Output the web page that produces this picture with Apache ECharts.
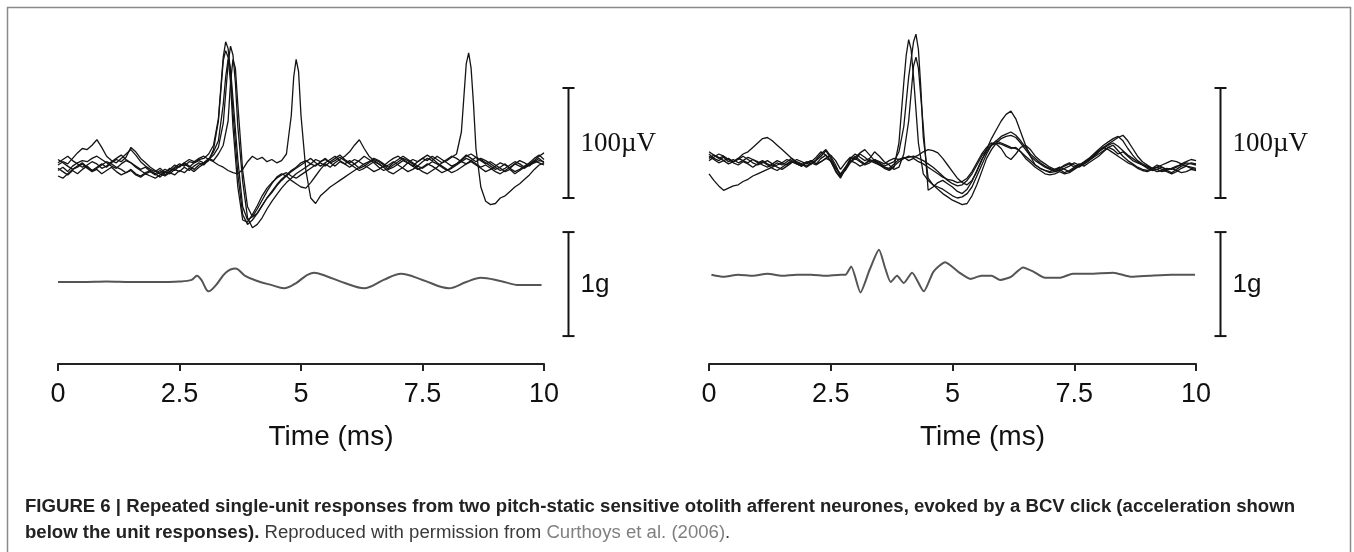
<!DOCTYPE html>
<html>
<head>
<meta charset="utf-8">
<title>Figure 6</title>
<script src="https://cdn.jsdelivr.net/npm/echarts@6/dist/echarts.min.js"></script>
<style>
  html, body { margin: 0; padding: 0; background: #fff; }
  #chart { width: 1354px; height: 552px; }
</style>
</head>
<body>
<div id="chart"></div>
<script>
  // tick labels of the time axis (ms)
  var timeTicks = ['0', '2.5', '5', '7.5', '10'];
  var sampleStep = 0.1; // ms between samples of the unit traces

  // left neurone, unit responses (uV), one value every 0.1 ms
  var leftUnit1 = [-5, -2, -6, -1, 2, 4, 3, 6, 8, 5,
    2, -1, -3, 1, 4, 2, -2, -5, -8, -6,
    -9, -7, -4, -6, -2, 1, -1, 3, 2, 5,
    6, 10, 18, 42, 98, 106, 48, -8, -45, -54,
    -50, -44, -37, -30, -24, -18, -13, -9, -5, -2,
    2, 4, 1, 5, 3, 6, 2, -1, 3, 1,
    -2, 1, 4, 8, 5, 2, -2, -5, -3, 0,
    3, 6, 4, 1, -3, -6, -8, -5, -2, 2,
    5, 8, 6, 3, 1, 4, 7, 5, 2, -1,
    -4, -2, 1, -3, -6, -4, -1, 2, 6, 9,
    5];
  var leftUnit2 = [-10, -12, -8, -4, -1, 2, -2, -5, -3, 0,
    3, 1, -2, -4, -7, -5, -9, -11, -8, -10,
    -12, -9, -6, -8, -4, -6, -2, -5, -1, 2,
    0, 5, 9, 16, 38, 92, 100, 35, -15, -48,
    -57, -54, -48, -40, -33, -27, -21, -16, -12, -8,
    -5, -2, 1, -1, 3, 5, 2, 4, 7, 4,
    1, -2, -5, -3, 0, 3, 1, -2, -6, -8,
    -5, -2, 2, 5, 3, 6, 9, 6, 2, -1,
    -4, -7, -5, -2, 1, 3, 0, -3, -6, -4,
    -1, 2, 0, -3, 1, 4, 2, -1, 3, 6,
    2];
  var leftUnit3 = [0, 3, 1, 6, 11, 15, 14, 18, 23, 16,
    8, 4, 2, 6, 10, 14, 9, 3, -1, -4,
    -6, -3, -7, -4, 0, -2, 2, 5, 3, 6,
    8, 5, 12, 22, 55, 96, 60, 5, -38, -50,
    -47, -40, -32, -24, -17, -11, -8, -10, -14, -17,
    -20, -21, -16, -10, -4, 1, -2, 2, 5, 8,
    12, 18, 23, 15, 8, 4, 1, -2, 0, 3,
    0, -3, -6, -4, -1, 3, 6, 4, 8, 5,
    2, -1, 1, 4, 8, 10, 7, 4, 1, 3,
    0, -3, -6, -4, -8, -5, -2, 1, 4, 2,
    0];
  var leftUnit4 = [5, 2, -1, -4, -2, 1, -3, -6, -4, -8,
    -5, -2, -6, -9, -7, -4, -8, -10, -7, -5,
    -8, -11, -7, -3, -5, -1, 2, -1, -4, 0,
    2, 6, 4, 10, 18, 40, 96, 55, -5, -38,
    -47, -44, -37, -30, -25, -19, -14, -10, -6, -3,
    0, 3, 6, 2, -1, 2, 5, 8, 4, 1,
    4, 1, -3, -1, 2, 5, 3, 0, -4, -2,
    1, 4, 2, -1, 3, 6, 4, 8, 5, 2,
    4, 7, 10, 30, 92, 88, 15, -20, -33, -36,
    -35, -30, -28, -24, -20, -17, -13, -9, -4, 0,
    2];
  var leftUnit5 = [-3, -6, -9, -5, -8, -4, -1, -5, -2, 1,
    -2, 2, 5, 3, 7, 16, 12, 6, 2, -2,
    -5, -8, -10, -7, -9, -5, -7, -3, -6, -2,
    1, 4, 14, 40, 95, 98, 35, -20, -50, -52,
    -45, -37, -28, -21, -16, -12, -9, -7, -10, -12,
    -9, -6, -3, 0, 2, -1, 3, 6, 9, 5,
    2, 5, 3, 0, -3, -6, -4, -1, 3, 6,
    8, 5, 2, -1, -4, -2, 1, -1, -4, -7,
    -5, -2, 1, 5, 9, 6, 3, 6, 4, 1,
    -2, -5, -3, 0, 3, 1, -2, 0, 4, 8,
    11];
  var leftUnit6 = [2, 5, 8, 4, 1, -2, 0, 3, 1, -3,
    -1, 3, 6, 9, 5, 2, -1, -4, -2, -6,
    -8, -5, -9, -6, -3, -1, 1, -2, 2, 4,
    2, 5, 3, 0, -2, -5, -7, -8, -4, 3,
    8, 5, 7, 3, 5, 2, 4, 10, 45, 96,
    45, -5, -30, -35, -28, -24, -20, -17, -14, -11,
    -8, -5, -2, 1, 3, 6, 4, 1, -2, 2,
    5, 8, 5, 2, -1, -3, 0, 3, 1, -2,
    -5, -3, 0, 3, 6, 4, 1, -2, 0, -3,
    -6, -8, -5, -2, 1, -1, -3, 0, 2, 4,
    3];
  // extra points read at the spike tips, [time ms, uV]
  var leftTips1 = [[3.45, 112], [3.55, 85]];
  var leftTips2 = [[3.55, 108], [3.65, 75]];
  var leftTips3 = [[3.45, 80], [3.55, 88]];
  var leftTips4 = [[3.55, 75], [3.65, 88], [8.45, 102], [8.55, 55]];
  var leftTips5 = [[3.45, 104], [3.55, 75]];
  var leftTips6 = [[4.85, 80], [4.95, 85]];

  // right neurone, unit responses (uV)
  var rightUnit1 = [8, 5, 2, 4, 1, 3, 6, 4, 2, 5,
    3, 0, -2, 1, 4, 2, 5, 3, 1, -1,
    2, 4, 1, 3, 6, 9, 4, -4, 2, 7,
    5, 10, 7, 3, 5, 2, -1, 1, 3, 12,
    35, 80, 112, 105, 25, -12, -18, -22, -26, -29,
    -32, -34, -36, -35, -28, -18, -6, 6, 14, 20,
    24, 26, 27, 25, 20, 14, 8, 4, 1, -2,
    -4, -6, -5, -3, -1, 2, 0, 3, 6, 10,
    14, 18, 21, 24, 26, 22, 15, 9, 4, 1,
    -1, -3, -2, 0, 2, 4, 3, 1, 3, 5,
    4];
  var rightUnit2 = [10, 6, 4, 7, 3, 5, 2, 4, 7, 5,
    2, 4, 1, -1, 2, 0, 3, 6, 2, 1,
    -2, 1, 5, 10, 14, 8, 0, -10, -4, 5,
    8, 4, 1, 5, 3, 0, -3, -5, -2, 20,
    75, 114, 80, 20, -8, -14, -18, -20, -22, -25,
    -28, -30, -29, -26, -20, -10, 0, 10, 18, 22,
    20, 18, 16, 15, 12, 8, 4, 0, -3, -5,
    -7, -6, -4, -7, -5, -2, 1, -1, 2, 5,
    8, 12, 16, 14, 10, 12, 8, 4, 2, 0,
    -3, -5, -4, -2, -5, -7, -4, -1, 0, 2,
    1];
  var rightUnit3 = [6, 9, 7, 4, 6, 3, 5, 8, 5, 2,
    0, 2, 4, 1, -2, -4, -1, 2, 5, 3,
    1, 3, 7, 12, 9, 4, -6, -12, -3, 6,
    10, 7, 4, 6, 12, 8, 3, 0, -4, -2,
    10, 40, 90, 88, 35, -23, -20, -16, -14, -17,
    -20, -24, -26, -22, -15, -5, 5, 12, 18, 22,
    26, 28, 30, 27, 22, 16, 10, 6, 2, -1,
    -3, -5, -3, -1, 1, -2, 0, 2, 5, 8,
    12, 15, 18, 20, 17, 13, 9, 6, 3, 0,
    -2, -4, -6, -5, -3, -4, -2, 1, -1, -3,
    -4];
  var rightUnit4 = [12, 9, 6, 8, 5, 3, 6, 10, 12, 16,
    20, 24, 25, 22, 18, 14, 10, 6, 3, 1,
    -1, 2, 0, 3, 6, 4, -3, -8, -2, 4,
    2, -1, 1, 4, 2, 0, -2, -3, 1, 5,
    6, 8, 7, 9, 12, 14, 13, 11, 6, 0,
    -6, -12, -16, -18, -14, -6, 4, 14, 24, 32,
    40, 46, 49, 42, 30, 18, 8, 0, -3, -5,
    -6, -4, -2, -4, -6, -3, -1, 1, 4, 8,
    12, 16, 19, 22, 25, 27, 22, 15, 8, 3,
    0, -3, -4, -6, -5, -3, -5, -7, -6, -4,
    -5];
  var rightUnit5 = [-8, -14, -19, -23, -21, -19, -18, -15, -13, -10,
    -8, -6, -4, -2, 0, 2, 0, 3, 1, -1,
    2, 4, 1, 6, 9, 3, -5, -11, -4, 3,
    7, 11, 14, 9, 4, 1, -2, -4, -1, 3,
    6, 7, 8, 6, 4, 1, -2, -6, -10, -14,
    -17, -19, -18, -14, -8, 0, 8, 14, 18, 20,
    19, 17, 15, 16, 12, 6, 2, -2, -5, -8,
    -9, -8, -6, -8, -7, -4, -1, 2, 5, 9,
    13, 16, 14, 11, 8, 5, 2, 0, -3, -5,
    -6, -4, -2, -4, -6, -8, -6, -3, -1, -2,
    -3];
  var rightUnit6 = [4, 7, 10, 8, 5, 2, 0, 3, 1, -2,
    1, 3, 0, -3, -5, -2, 1, 4, 2, 0,
    3, 1, 4, 8, 13, 6, -2, -9, -5, 2,
    6, 3, 0, 2, 5, 3, 1, 4, 6, 5,
    7, 4, 6, 3, 1, -2, -5, -8, -11, -13,
    -14, -16, -15, -12, -6, 2, 10, 16, 20, 19,
    15, 8, 5, 10, 16, 18, 14, 8, 4, 1,
    -2, -4, -3, 0, 2, 0, -2, 1, 4, 7,
    10, 13, 16, 18, 13, 8, 4, 1, -2, -4,
    -5, -3, 0, -2, -4, -3, -1, 0, 2, 1,
    0];
  var rightTips1 = [[4.25, 119], [4.35, 70]];
  var rightTips2 = [[4.05, 100], [4.15, 105]];
  var rightTips3 = [[4.25, 98]];

  // acceleration of the BCV click, [time ms, g]
  var leftAccel = [[0, 0], [0.5, 0], [1, 0.005], [1.5, 0], [2, 0], [2.5, 0.005],
    [2.75, 0.02], [2.86, 0.06], [2.95, 0.02], [3.1, -0.09], [3.25, -0.03], [3.45, 0.09],
    [3.65, 0.13], [3.85, 0.06], [4.1, 0.01], [4.4, -0.03], [4.65, -0.06], [4.9, -0.01],
    [5.1, 0.06], [5.27, 0.09], [5.5, 0.06], [5.9, -0.01], [6.3, -0.06], [6.7, 0.02],
    [7.06, 0.08], [7.5, 0.02], [8.04, -0.06], [8.4, 0], [8.7, 0.04], [9.1, 0.01],
    [9.5, -0.03], [9.95, -0.03]];
  var rightAccel = [[0.05, 0.07], [0.3, 0.05], [0.6, 0.07], [0.9, 0.06], [1.2, 0.08],
    [1.5, 0.06], [1.8, 0.07], [2.1, 0.07], [2.4, 0.06], [2.7, 0.07], [2.8, 0.07],
    [2.92, 0.15], [3.11, -0.1], [3.3, 0.12], [3.49, 0.31], [3.62, 0.13], [3.73, 0],
    [3.86, 0.06], [4, -0.01], [4.17, 0.09], [4.41, -0.09], [4.61, 0.1], [4.85, 0.19],
    [5.14, 0.09], [5.37, 0.03], [5.59, 0.06], [5.8, 0.06], [5.98, 0.02], [6.2, 0.05],
    [6.45, 0.14], [6.66, 0.1], [6.9, 0.04], [7.2, 0.04], [7.47, 0.08], [7.8, 0.08],
    [8.3, 0.09], [8.68, 0.05], [9.05, 0.06], [9.5, 0.07], [9.98, 0.07]];

  // scale bars: [time where drawn, low, high]
  var voltBar = [10.5, -30, 70];
  var accelBar = [10.5, -0.52, 0.48];
  var voltBarLabel = '100\u00b5V';
  var accelBarLabel = '1g';

  var captionLine1 = 'FIGURE 6 | Repeated single-unit responses from two pitch-static sensitive otolith afferent neurones, evoked by a BCV click (acceleration shown';
  var captionBold2 = 'below the unit responses).';
  var captionPlain2 = ' Reproduced with permission from ';
  var captionCite = 'Curthoys et al. (2006)';

  var panels = [
    {
      left: 58, width: 486, accel: leftAccel,
      units: [leftUnit1, leftUnit2, leftUnit3, leftUnit4, leftUnit5, leftUnit6],
      tips: [leftTips1, leftTips2, leftTips3, leftTips4, leftTips5, leftTips6]
    },
    {
      left: 709, width: 487, accel: rightAccel,
      units: [rightUnit1, rightUnit2, rightUnit3, rightUnit4, rightUnit5, rightUnit6],
      tips: [rightTips1, rightTips2, rightTips3, [], [], []]
    }
  ];

  var sans = '"Liberation Sans", Arial, Helvetica, sans-serif';
  var serif = '"Liberation Serif", "Times New Roman", serif';

  function toPairs(values, extra) {
    var pts = values.map(function (v, i) {
      return [Math.round(i * sampleStep * 100) / 100, v];
    });
    return pts.concat(extra || []).sort(function (a, b) { return a[0] - b[0]; });
  }

  function scaleBarRenderer(label, font) {
    return function (params, api) {
      var top = api.coord([api.value(0), api.value(2)]);
      var bottom = api.coord([api.value(0), api.value(1)]);
      var x = Math.round(top[0]) + 0.5;
      var st = { stroke: '#151515', lineWidth: 2 };
      return {
        type: 'group',
        children: [
          { type: 'line', shape: { x1: x, y1: top[1], x2: x, y2: bottom[1] }, style: st },
          { type: 'line', shape: { x1: x - 6, y1: top[1], x2: x + 6, y2: top[1] }, style: st },
          { type: 'line', shape: { x1: x - 6, y1: bottom[1], x2: x + 6, y2: bottom[1] }, style: st },
          {
            type: 'text', x: x + 12, y: (top[1] + bottom[1]) / 2 + 1,
            style: { text: label, font: font, fill: '#111', verticalAlign: 'middle', align: 'left' }
          }
        ]
      };
    };
  }

  var grids = [], xAxes = [], yAxes = [], series = [];

  panels.forEach(function (p, k) {
    var g = k * 3;
    // unit traces, acceleration trace, visible time axis
    grids.push({ left: p.left, width: p.width, top: 22, height: 231, outerBoundsMode: 'none' });
    grids.push({ left: p.left, width: p.width, top: 230, height: 104, outerBoundsMode: 'none' });
    grids.push({ left: p.left, width: p.width, top: 300, height: 64, outerBoundsMode: 'none' });

    xAxes.push({ gridIndex: g, type: 'value', min: 0, max: 10, show: false });
    xAxes.push({ gridIndex: g + 1, type: 'value', min: 0, max: 10, show: false });
    xAxes.push({
      gridIndex: g + 2, type: 'value', min: 0, max: 10, interval: 2.5,
      axisLine: { lineStyle: { color: '#222', width: 2 } },
      axisTick: { length: 7, lineStyle: { color: '#222', width: 2 } },
      splitLine: { show: false },
      axisLabel: {
        margin: 17, fontSize: 27, color: '#111', fontFamily: sans,
        formatter: function (v) { return timeTicks[Math.round(v / 2.5)]; }
      },
      name: 'Time (ms)', nameLocation: 'middle', nameGap: 59,
      nameTextStyle: { fontSize: 28, color: '#111', fontFamily: sans, padding: [0, 0, 0, 60] }
    });

    yAxes.push({ gridIndex: g, type: 'value', min: -80, max: 130, show: false });
    yAxes.push({ gridIndex: g + 1, type: 'value', min: -0.5, max: 0.5, show: false });
    yAxes.push({ gridIndex: g + 2, type: 'value', min: 0, max: 1, show: false });

    p.units.forEach(function (u, j) {
      series.push({
        type: 'line', xAxisIndex: g, yAxisIndex: g, data: toPairs(u, p.tips[j]),
        symbol: 'none', clip: false, silent: true,
        lineStyle: { color: '#141414', width: 1.3 }
      });
    });
    series.push({
      type: 'line', xAxisIndex: g + 1, yAxisIndex: g + 1, data: p.accel,
      symbol: 'none', clip: false, silent: true, smooth: k === 0 ? 0.35 : 0.2,
      lineStyle: { color: '#555', width: 2 }
    });
    series.push({
      type: 'custom', xAxisIndex: g, yAxisIndex: g, clip: false, silent: true,
      data: [voltBar], renderItem: scaleBarRenderer(voltBarLabel, '27px ' + serif)
    });
    series.push({
      type: 'custom', xAxisIndex: g + 1, yAxisIndex: g + 1, clip: false, silent: true,
      data: [accelBar], renderItem: scaleBarRenderer(accelBarLabel, '26px ' + sans)
    });
  });

  // caption font is condensed in the original: squeeze a regular face to the same width
  var ctx = document.createElement('canvas').getContext('2d');
  ctx.font = 'bold 18px ' + sans;
  var squeeze = 1270 / ctx.measureText(captionLine1).width;

  var option = {
    animation: false,
    backgroundColor: '#fff',
    textStyle: { fontFamily: sans },
    grid: grids,
    xAxis: xAxes,
    yAxis: yAxes,
    series: series,
    graphic: [
      {
        type: 'rect', silent: true,
        shape: { x: 7.5, y: 7.5, width: 1343, height: 580 },
        style: { fill: 'none', stroke: '#8a8a8a', lineWidth: 1.5 }
      },
      {
        type: 'text', x: 25, y: 507, scaleX: squeeze, silent: true,
        style: { text: captionLine1, font: 'bold 18px ' + sans, fill: '#222', verticalAlign: 'middle' }
      },
      {
        type: 'text', x: 25, y: 533, scaleX: squeeze, silent: true,
        style: {
          text: '{b|' + captionBold2 + '}{n|' + captionPlain2 + '}{c|' + captionCite + '}{n|.}',
          verticalAlign: 'middle',
          rich: {
            b: { font: 'bold 18px ' + sans, fill: '#222', color: '#222' },
            n: { font: '18px ' + sans, fill: '#3a3a3a', color: '#3a3a3a' },
            c: { font: '18px ' + sans, fill: '#808080', color: '#808080' }
          }
        }
      }
    ]
  };

  var chart = echarts.init(document.getElementById('chart'));
  chart.setOption(option);
</script>
</body>
</html>
